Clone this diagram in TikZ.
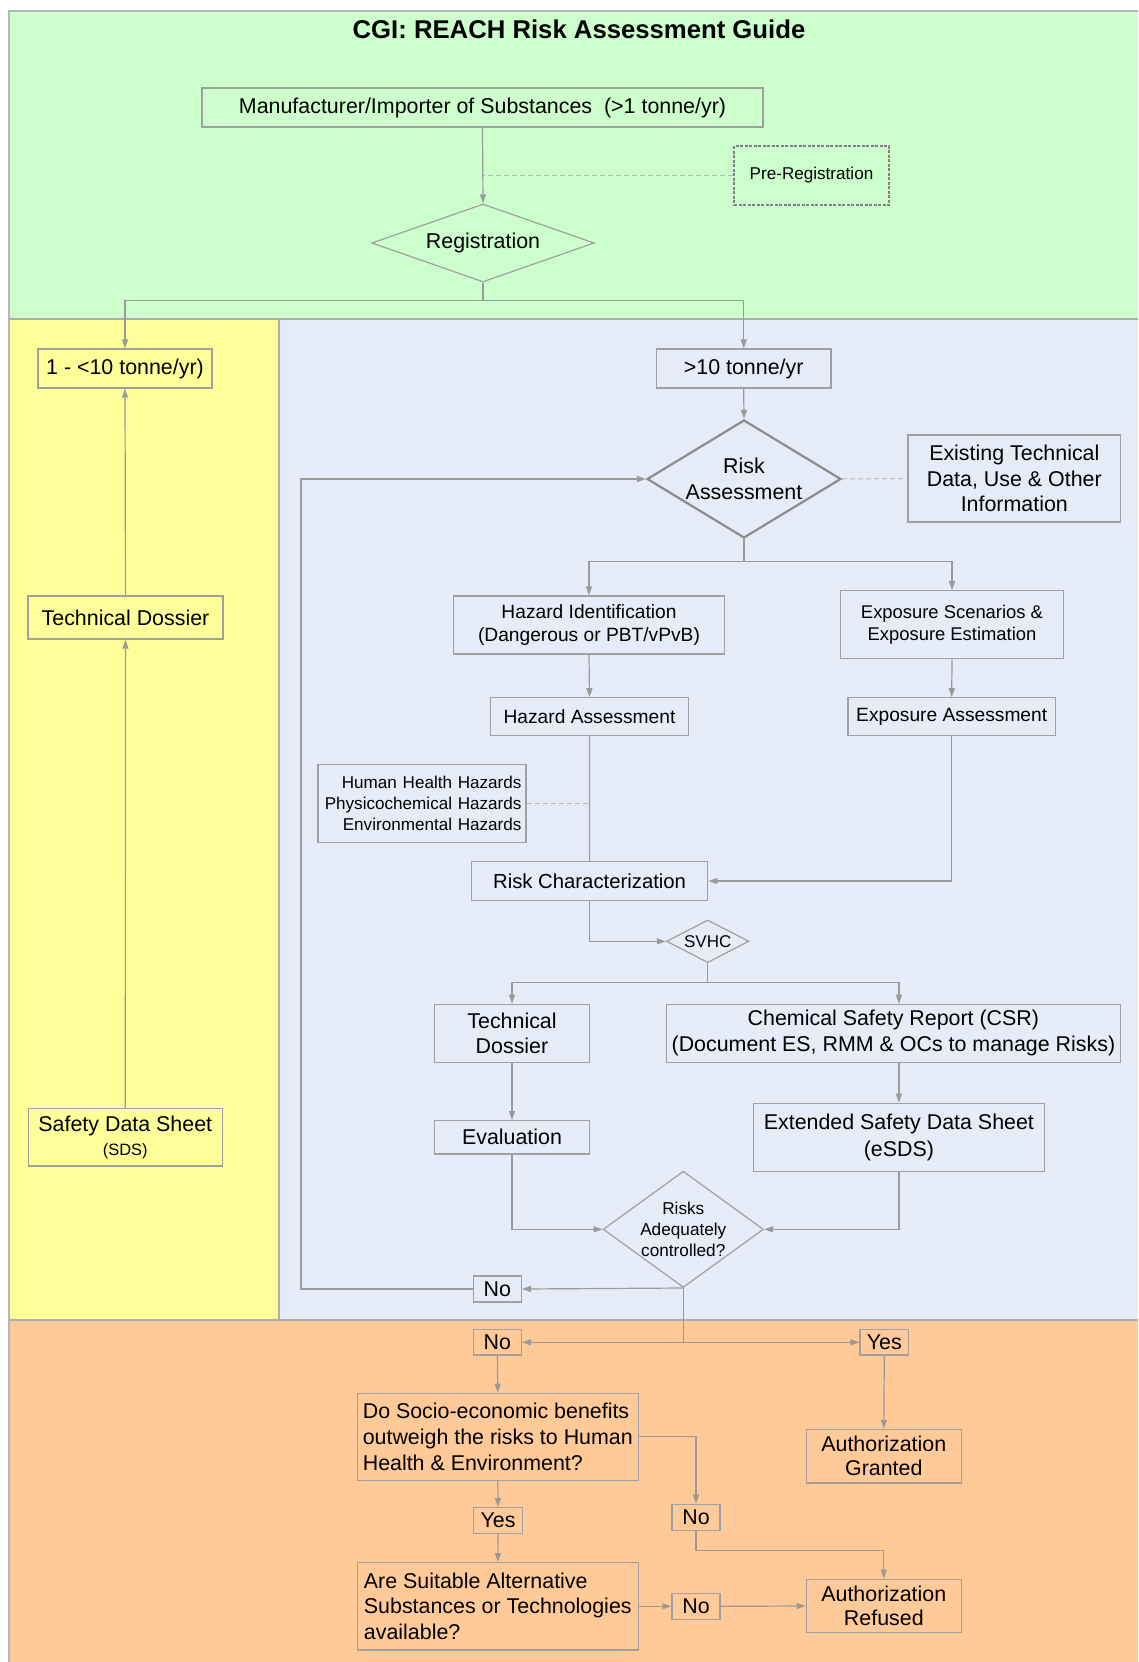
\documentclass[tikz,border=0pt]{standalone}
\usepackage{fontspec}
\setmainfont{Liberation Sans}
\usetikzlibrary{shapes.geometric,arrows.meta}
\definecolor{zonegreen}{HTML}{CCFFCC}
\definecolor{zoneyellow}{HTML}{FFFF99}
\definecolor{zoneblue}{HTML}{E6ECF7}
\definecolor{zoneorange}{HTML}{FFCA98}
\definecolor{boxgray}{HTML}{A0A0A0}
\definecolor{linegray}{HTML}{9A9A9A}

\begin{document}
\begin{tikzpicture}[x=1pt,y=-1pt,
    box/.style={draw=boxgray,line width=1.2pt,inner sep=0pt,align=center,font=\fontsize{21.4}{25.7}\selectfont},
    midbox/.style={box,font=\fontsize{19.2}{23.3}\selectfont},
    smallbox/.style={box,font=\fontsize{17.1}{20.8}\selectfont},
    choice/.style={box,shape=diamond},
    arr/.style={draw=linegray,line width=1.2pt,-{Triangle[length=9pt,width=6pt]}},
    link/.style={draw=linegray,line width=1.2pt},
    hint/.style={draw=linegray!70,line width=1pt,dash pattern=on 5pt off 3pt}]
    \useasboundingbox (0,0) rectangle (1138,1662);
    \fill[zonegreen] (9,11) rectangle (1138,319);
    \fill[zoneyellow] (9,319) rectangle (279,1320);
    \fill[zoneblue] (279,319) rectangle (1138,1320);
    \fill[zoneorange] (9,1320) rectangle (1138,1662);
    \draw[black!28,line width=1.6pt] (1138,11) -- (9,11) -- (9,1662);
    \draw[black!32,line width=1.4pt] (9,319) -- (1138,319) (279,319) -- (279,1320) (9,1320) -- (1138,1320);

    \node[font=\bfseries\fontsize{25.7}{30}\selectfont] (title) at (579,29) {CGI: REACH Risk Assessment Guide};
    \node[box,minimum width=561,minimum height=39] (manu) at (482.5,107.5) {Manufacturer/Importer of Substances~ (>1 tonne/yr)};
    \node[smallbox,draw=black!50,line width=2pt,dash pattern=on 3pt off 1.5pt,minimum width=155,minimum height=59] (prereg) at (811.5,175.5) {Pre-Registration};
    \node[choice,aspect=2.85,minimum width=222.5,minimum height=78] (reg) at (483,243) {Registration};
    \node[box,minimum width=174,minimum height=39] (low) at (125,368.5) {1 - <10 tonne/yr)};
    \node[box,minimum width=174.4,minimum height=39] (high) at (743.7,368.5) {>10 tonne/yr};
    \node[box,minimum width=195,minimum height=43] (dossier) at (125.5,617.5) {Technical Dossier};
    \node[box,minimum width=194,minimum height=57.7] (sds) at (125.3,1137.2) {Safety Data Sheet\\[-2pt]{\fontsize{16.4}{19}\selectfont (SDS)}};

    \node[choice,draw=black!45,line width=2.2pt,aspect=1.64,minimum width=194,minimum height=118] (ra) at (744,479) {Risk\\Assessment};
    \node[box,minimum width=212.6,minimum height=87] (exist) at (1014.3,478.5) {Existing Technical\\Data, Use \& Other\\Information};
    \node[midbox,minimum width=271,minimum height=58] (hazid) at (589,625) {Hazard Identification\\(Dangerous or PBT/vPvB)};
    \node[midbox,font=\fontsize{18.4}{22.3}\selectfont,minimum width=222.8,minimum height=68] (expsc) at (952,624.7) {Exposure Scenarios \&\\Exposure Estimation};
    \node[midbox,minimum width=198,minimum height=38] (hazass) at (589.5,716.8) {Hazard Assessment};
    \node[midbox,minimum width=207.4,minimum height=38] (expass) at (951.7,716.8) {Exposure Assessment};
    \node[smallbox,align=right,text width=199,inner xsep=4.5pt,minimum width=207.7,minimum height=78] (hazlist) at (422,803.3) {Human Health Hazards\\Physicochemical Hazards\\Environmental Hazards};
    \node[box,font=\fontsize{20.3}{24}\selectfont,minimum width=236.5,minimum height=38.6] (riskchar) at (589.6,881) {Risk Characterization};
    \node[choice,font=\fontsize{17}{20}\selectfont,aspect=1.92,minimum width=82.3,minimum height=42.7] (svhc) at (707.7,941.3) {SVHC};
    \node[box,minimum width=155.4,minimum height=58] (techdoc) at (512,1033.3) {Technical\\Dossier};
    \node[box,minimum width=453.7,minimum height=58] (csr) at (893.4,1033.3) {Chemical Safety Report (CSR)\\(Document ES, RMM \& OCs to manage Risks)};
    \node[box,minimum width=155.4,minimum height=33.3] (eval) at (512,1137.3) {Evaluation};
    \node[box,font=\fontsize{21.4}{27}\selectfont,minimum width=291,minimum height=68.4] (esds) at (898.9,1137.5) {Extended Safety Data Sheet\\(eSDS)};
    \node[choice,font=\fontsize{17.2}{20.6}\selectfont,aspect=1.38,minimum width=158.6,minimum height=115] (risks) at (683.3,1229.3) {Risks\\Adequately\\controlled?};
    \node[box,minimum width=48,minimum height=26] (noloop) at (497.3,1289) {No};

    \node[box,minimum width=48,minimum height=25.3] (nouse) at (497.3,1342.3) {No};
    \node[box,minimum width=48.7,minimum height=25.3] (yesuse) at (884.3,1342.3) {Yes};
    \node[box,align=left,minimum width=281.2,minimum height=87] (socio) at (497.8,1436.8) {Do Socio-economic benefits\\outweigh the risks to Human\\Health \& Environment?};
    \node[box,font=\fontsize{21.4}{24}\selectfont,minimum width=155,minimum height=53.7] (granted) at (883.8,1456.2) {Authorization\\Granted};
    \node[box,minimum width=48,minimum height=26] (nosocio) at (696,1517.3) {No};
    \node[box,minimum width=48.7,minimum height=25.6] (yessocio) at (498,1520.5) {Yes};
    \node[box,align=left,minimum width=281.2,minimum height=87.3] (alt) at (497.8,1606.3) {Are Suitable Alternative\\Substances or Technologies\\available?};
    \node[box,minimum width=48,minimum height=26] (noalt) at (696,1606.3) {No};
    \node[box,font=\fontsize{21.4}{24}\selectfont,minimum width=155,minimum height=53.4] (refused) at (883.8,1606) {Authorization\\Refused};

    \draw[arr] (manu.south) -- (reg.north);
    \draw[hint] (prereg.west) -- (prereg.west -| manu.south);
    \coordinate (regsplit) at (483,300.7);
    \draw[link] (reg.south) -- (regsplit);
    \draw[arr] (regsplit) -| (low.north);
    \draw[arr] (regsplit) -| (high.north);
    \draw[arr] (dossier.north) -- (low.south);
    \draw[arr] (sds.north) -- (dossier.south);

    \draw[arr] (high.south) -- (ra.north);
    \draw[hint] (ra.east) -- (exist.west);
    \coordinate (rasplit) at (744,561.7);
    \draw[link] (ra.south) -- (rasplit);
    \draw[arr] (rasplit) -| (hazid.north);
    \draw[arr] (rasplit) -| (expsc.north);
    \draw[arr] (hazid.south) -- (hazass.north);
    \draw[arr] (expsc.south) -- (expass.north);
    \draw[link] (hazass.south) -- (riskchar.north);
    \draw[hint] (hazlist.east) -- (hazlist.east -| hazass.south);
    \draw[arr] (expass.south) |- (riskchar.east);
    \draw[arr] (riskchar.south) |- (svhc.west);
    \coordinate (svsplit) at (707.7,982.3);
    \draw[link] (svhc.south) -- (svsplit);
    \draw[arr] (svsplit) -| (techdoc.north);
    \draw[arr] (svsplit) -| (esds.north |- csr.north);
    \draw[arr] (techdoc.south) -- (eval.north);
    \draw[arr] (esds.north |- csr.south) -- (esds.north);
    \draw[arr] (eval.south) |- (risks.west);
    \draw[arr] (esds.south) |- (risks.east);
    \draw[arr] (risks.south) -- (noloop.east);
    \coordinate (loopx) at (301,0);
    \draw[arr] (noloop.west) -| (loopx |- ra.west) -- (ra.west);

    \coordinate (rksplit) at (risks.south |- nouse.east);
    \draw[link] (risks.south) -- (rksplit);
    \draw[arr] (rksplit) -- (nouse.east);
    \draw[arr] (rksplit) -- (yesuse.west);
    \draw[arr] (nouse.south) -- (socio.north);
    \draw[arr] (yesuse.south) -- (granted.north);
    \draw[arr] (socio.east) -| (nosocio.north);
    \draw[arr] (nosocio.south) |- ([yshift=28.6pt]refused.north) -- (refused.north);
    \draw[arr] (socio.south) -- (yessocio.north);
    \draw[arr] (yessocio.south) -- (alt.north);
    \draw[arr] (alt.east) -- (noalt.west);
    \draw[arr] (noalt.east) -- (refused.west);
\end{tikzpicture}
\end{document}
